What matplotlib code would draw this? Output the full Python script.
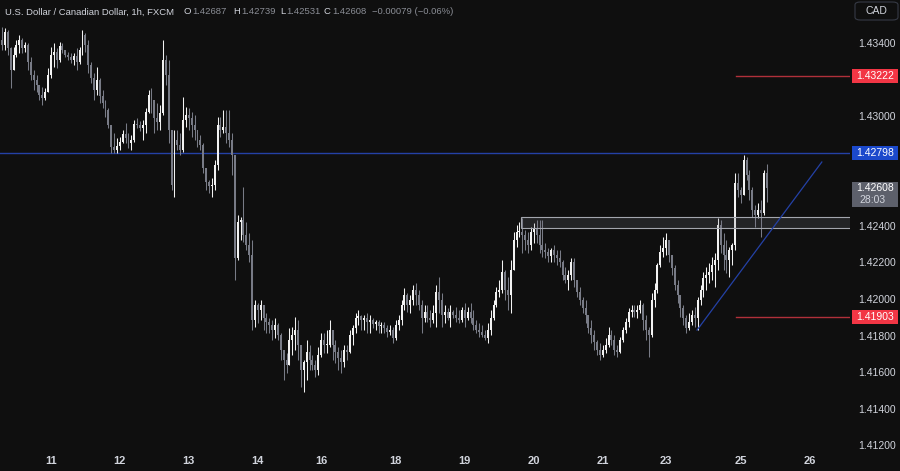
import numpy as np
import matplotlib
matplotlib.use('Agg')
from matplotlib import pyplot as plt
from matplotlib.patches import Rectangle, FancyBboxPatch
from matplotlib.transforms import blended_transform_factory

# USD/CAD 1h candles, 10 Mar 07:00 -> 25 Mar 09:00
first_open = 1.43416
closes = [
    1.43389, 1.43460, 1.43372, 1.43252, 1.43334, 1.43389, 1.43416, 1.43372, 1.43389, 1.43296,
    1.43225, 1.43198, 1.43170, 1.43115, 1.43099, 1.43132, 1.43225, 1.43334, 1.43351, 1.43307,
    1.43383, 1.43362, 1.43334, 1.43323, 1.43307, 1.43329, 1.43296, 1.43362, 1.43444, 1.43389,
    1.43279, 1.43208, 1.43143, 1.43198, 1.43110, 1.43072, 1.43033, 1.42951, 1.42831, 1.42814,
    1.42836, 1.42858, 1.42902, 1.42880, 1.42853, 1.42869, 1.42957, 1.42951, 1.42935, 1.42951,
    1.43022, 1.43115, 1.43088, 1.42990, 1.42968, 1.43017, 1.43307, 1.43225, 1.42924, 1.42623,
    1.42869, 1.42842, 1.42814, 1.42979, 1.43006, 1.42990, 1.42951, 1.42924, 1.42869, 1.42842,
    1.42716, 1.42639, 1.42618, 1.42623, 1.42732, 1.42951, 1.42924, 1.42940, 1.42908, 1.42869,
    1.42787, 1.42224, 1.42421, 1.42431, 1.42350, 1.42295, 1.42240, 1.41885, 1.41967, 1.41939,
    1.41967, 1.41896, 1.41874, 1.41857, 1.41830, 1.41857, 1.41803, 1.41720, 1.41666, 1.41638,
    1.41775, 1.41803, 1.41830, 1.41748, 1.41611, 1.41655, 1.41710, 1.41666, 1.41638, 1.41611,
    1.41693, 1.41775, 1.41748, 1.41748, 1.41830, 1.41748, 1.41710, 1.41677, 1.41655, 1.41720,
    1.41710, 1.41803, 1.41841, 1.41896, 1.41907, 1.41885, 1.41896, 1.41874, 1.41885, 1.41863,
    1.41874, 1.41852, 1.41857, 1.41841, 1.41819, 1.41830, 1.41786, 1.41857, 1.41885, 1.41967,
    1.42021, 1.41967, 1.41994, 1.42049, 1.42021, 1.41967, 1.41896, 1.41928, 1.41896, 1.41885,
    1.41923, 1.42038, 1.41994, 1.41912, 1.41928, 1.41896, 1.41928, 1.41912, 1.41896, 1.41885,
    1.41939, 1.41896, 1.41928, 1.41896, 1.41857, 1.41830, 1.41819, 1.41803, 1.41786, 1.41830,
    1.41896, 1.41967, 1.42038, 1.42049, 1.42147, 1.42049, 1.42021, 1.42158, 1.42322, 1.42366,
    1.42366, 1.42350, 1.42322, 1.42295, 1.42366, 1.42388, 1.42350, 1.42295, 1.42267, 1.42257,
    1.42235, 1.42267, 1.42240, 1.42224, 1.42202, 1.42131, 1.42103, 1.42131, 1.42202, 1.42103,
    1.42038, 1.41994, 1.41950, 1.41912, 1.41841, 1.41803, 1.41764, 1.41720, 1.41693, 1.41720,
    1.41748, 1.41803, 1.41775, 1.41720, 1.41710, 1.41775, 1.41830, 1.41874, 1.41928, 1.41939,
    1.41928, 1.41939, 1.41967, 1.41885, 1.41830, 1.41803, 1.41994, 1.42049, 1.42186, 1.42257,
    1.42279, 1.42322, 1.42240, 1.42169, 1.42076, 1.42021, 1.41950, 1.41896, 1.41841, 1.41874,
    1.41912, 1.41896, 1.41994, 1.42049, 1.42114, 1.42131, 1.42147, 1.42186, 1.42213, 1.42404,
    1.42295, 1.42240, 1.42213, 1.42267, 1.42295, 1.42634, 1.42596, 1.42568, 1.42760, 1.42678,
    1.42596, 1.42486, 1.42459, 1.42486, 1.42470, 1.42687, 1.42608,
]
highs = [
    1.43487, 1.43482, 1.43471, 1.43378, 1.43378, 1.43416, 1.43444, 1.43427, 1.43405, 1.43400,
    1.43323, 1.43252, 1.43225, 1.43170, 1.43159, 1.43154, 1.43263, 1.43378, 1.43400, 1.43372,
    1.43405, 1.43400, 1.43362, 1.43351, 1.43345, 1.43345, 1.43372, 1.43378, 1.43471, 1.43454,
    1.43416, 1.43296, 1.43236, 1.43268, 1.43208, 1.43143, 1.43088, 1.43044, 1.42951, 1.42908,
    1.42880, 1.42886, 1.42924, 1.42962, 1.42908, 1.42897, 1.42979, 1.42990, 1.42973, 1.42979,
    1.43044, 1.43143, 1.43154, 1.43088, 1.43072, 1.43061, 1.43416, 1.43334, 1.43307, 1.42908,
    1.42924, 1.42924, 1.42908, 1.43104, 1.43050, 1.43044, 1.43022, 1.43006, 1.42908, 1.42897,
    1.42853, 1.42705, 1.42650, 1.42661, 1.42760, 1.42995, 1.42995, 1.43033, 1.43033, 1.43033,
    1.42908, 1.42689, 1.42459, 1.42448, 1.42612, 1.42421, 1.42360, 1.42322, 1.41994, 1.41977,
    1.41994, 1.41967, 1.41923, 1.41896, 1.41885, 1.41896, 1.41868, 1.41814, 1.41720, 1.41704,
    1.41841, 1.41846, 1.41901, 1.41885, 1.41682, 1.41666, 1.41775, 1.41748, 1.41693, 1.41666,
    1.41737, 1.41814, 1.41814, 1.41830, 1.41885, 1.41814, 1.41775, 1.41737, 1.41720, 1.41748,
    1.41748, 1.41830, 1.41857, 1.41923, 1.41939, 1.41912, 1.41912, 1.41923, 1.41912, 1.41896,
    1.41885, 1.41885, 1.41874, 1.41874, 1.41857, 1.41857, 1.41846, 1.41885, 1.41912, 1.41994,
    1.42060, 1.42032, 1.42021, 1.42076, 1.42087, 1.42049, 1.41994, 1.41967, 1.41967, 1.41939,
    1.41967, 1.42076, 1.42120, 1.42032, 1.41967, 1.41950, 1.41967, 1.41939, 1.41956, 1.41939,
    1.41956, 1.41977, 1.41956, 1.41977, 1.41939, 1.41885, 1.41868, 1.41857, 1.41830, 1.41868,
    1.41939, 1.41994, 1.42065, 1.42103, 1.42213, 1.42158, 1.42120, 1.42213, 1.42366, 1.42404,
    1.42421, 1.42443, 1.42377, 1.42366, 1.42393, 1.42415, 1.42431, 1.42431, 1.42431, 1.42306,
    1.42279, 1.42279, 1.42295, 1.42267, 1.42267, 1.42213, 1.42175, 1.42158, 1.42224, 1.42224,
    1.42103, 1.42065, 1.42010, 1.41994, 1.41901, 1.41885, 1.41830, 1.41775, 1.41759, 1.41748,
    1.41786, 1.41846, 1.41830, 1.41803, 1.41748, 1.41792, 1.41846, 1.41896, 1.41950, 1.41967,
    1.41967, 1.41967, 1.41994, 1.41977, 1.41912, 1.41846, 1.42032, 1.42087, 1.42197, 1.42295,
    1.42339, 1.42360, 1.42322, 1.42240, 1.42186, 1.42103, 1.42021, 1.41967, 1.41912, 1.41923,
    1.41939, 1.41956, 1.42010, 1.42076, 1.42147, 1.42175, 1.42197, 1.42229, 1.42251, 1.42443,
    1.42431, 1.42360, 1.42322, 1.42284, 1.42306, 1.42689, 1.42689, 1.42612, 1.42787, 1.42776,
    1.42705, 1.42612, 1.42514, 1.42525, 1.42541, 1.42705, 1.42739,
]
lows = [
    1.43362, 1.43362, 1.43334, 1.43154, 1.43263, 1.43323, 1.43345, 1.43345, 1.43351, 1.43252,
    1.43198, 1.43143, 1.43132, 1.43088, 1.43061, 1.43088, 1.43132, 1.43208, 1.43268, 1.43263,
    1.43296, 1.43345, 1.43323, 1.43307, 1.43290, 1.43279, 1.43252, 1.43285, 1.43334, 1.43351,
    1.43236, 1.43181, 1.43088, 1.43115, 1.43072, 1.43044, 1.42995, 1.42935, 1.42798, 1.42798,
    1.42798, 1.42814, 1.42853, 1.42853, 1.42825, 1.42814, 1.42858, 1.42935, 1.42919, 1.42869,
    1.42908, 1.43017, 1.43017, 1.42908, 1.42924, 1.42924, 1.43006, 1.43170, 1.42853, 1.42596,
    1.42557, 1.42814, 1.42787, 1.42804, 1.42940, 1.42924, 1.42886, 1.42869, 1.42831, 1.42814,
    1.42689, 1.42596, 1.42579, 1.42557, 1.42596, 1.42705, 1.42886, 1.42908, 1.42853, 1.42831,
    1.42678, 1.42103, 1.42213, 1.42322, 1.42311, 1.42267, 1.42202, 1.41830, 1.41846, 1.41868,
    1.41885, 1.41830, 1.41814, 1.41814, 1.41775, 1.41786, 1.41775, 1.41666, 1.41556, 1.41595,
    1.41655, 1.41693, 1.41720, 1.41666, 1.41518, 1.41491, 1.41556, 1.41611, 1.41611, 1.41573,
    1.41584, 1.41682, 1.41704, 1.41704, 1.41737, 1.41666, 1.41649, 1.41611, 1.41595, 1.41627,
    1.41666, 1.41704, 1.41748, 1.41814, 1.41857, 1.41830, 1.41830, 1.41814, 1.41814, 1.41841,
    1.41830, 1.41814, 1.41814, 1.41814, 1.41792, 1.41803, 1.41759, 1.41775, 1.41830, 1.41857,
    1.41939, 1.41928, 1.41923, 1.41967, 1.41967, 1.41939, 1.41814, 1.41874, 1.41874, 1.41846,
    1.41868, 1.41846, 1.41923, 1.41846, 1.41868, 1.41885, 1.41846, 1.41896, 1.41874, 1.41868,
    1.41874, 1.41846, 1.41885, 1.41868, 1.41830, 1.41814, 1.41792, 1.41792, 1.41775, 1.41759,
    1.41803, 1.41885, 1.41956, 1.42010, 1.42032, 1.41994, 1.41939, 1.41923, 1.42158, 1.42284,
    1.42339, 1.42251, 1.42267, 1.42251, 1.42267, 1.42306, 1.42306, 1.42251, 1.42229, 1.42224,
    1.42202, 1.42202, 1.42202, 1.42186, 1.42175, 1.42103, 1.42087, 1.42049, 1.42103, 1.42065,
    1.42010, 1.41967, 1.41923, 1.41868, 1.41814, 1.41759, 1.41720, 1.41693, 1.41666, 1.41682,
    1.41704, 1.41737, 1.41748, 1.41693, 1.41682, 1.41704, 1.41764, 1.41814, 1.41846, 1.41901,
    1.41901, 1.41896, 1.41923, 1.41830, 1.41775, 1.41682, 1.41792, 1.41956, 1.42032, 1.42175,
    1.42229, 1.42240, 1.42202, 1.42131, 1.42049, 1.41977, 1.41901, 1.41857, 1.41814, 1.41830,
    1.41857, 1.41846, 1.41830, 1.41967, 1.42010, 1.42049, 1.42087, 1.42103, 1.42065, 1.42158,
    1.42251, 1.42158, 1.42142, 1.42120, 1.42186, 1.42267, 1.42557, 1.42525, 1.42650, 1.42650,
    1.42541, 1.42448, 1.42393, 1.42443, 1.42339, 1.42459, 1.42531,
]

# day labels on the time axis (candle index where each day starts)
day_ticks = [17, 41, 65, 89, 111, 137, 161, 185, 209, 231, 257, 281]
day_labels = ['11', '12', '13', '14', '16', '18', '19', '20', '21', '23', '25', '26']
price_ticks = [1.434, 1.430, 1.424, 1.422, 1.420, 1.418, 1.416, 1.414, 1.412]

# drawings
blue_level = 1.42798
red_levels = [1.43222, 1.41903]
zone = (180.5, 1.42389, 1.42446)          # start index, bottom, top
trend = ([241.8, 285.2], [1.41830, 1.42749])

BG = '#0f0f0f'
UP = '#f2f2f2'
DOWN = '#787b86'
TXT = '#d1d4dc'
LINE_BLUE = '#2441a6'
FONT = 'Liberation Sans'

o = np.array([first_open] + closes[:-1])
c = np.array(closes)
h = np.maximum(np.array(highs), np.maximum(o, c))
l = np.minimum(np.array(lows), np.minimum(o, c))
x = np.arange(len(c))
cols = np.where(c >= o, UP, DOWN)

fig = plt.figure(figsize=(9, 4.71), dpi=100, facecolor=BG)
ax = fig.add_axes([0, 21 / 471, 850 / 900, 450 / 471])
ax.set_facecolor(BG)
for s in ax.spines.values():
    s.set_visible(False)

ax.set_xlim(-0.7, 295)
ax.set_ylim(1.41174, 1.43635)

ax.vlines(x, l, h, colors=cols, linewidth=0.75, zorder=4)
body = np.maximum(np.abs(c - o), 0.00003)
ax.bar(x, body, bottom=np.minimum(o, c), width=0.68, color=cols, linewidth=0, zorder=5)

# levels and drawings
ax.axhline(blue_level, color=LINE_BLUE, linewidth=1.0, zorder=3)
for lv in red_levels:
    ax.plot([255.5, 300], [lv, lv], color='#b0303a', linewidth=1.0, zorder=3)
ax.add_patch(Rectangle((zone[0], zone[1]), 200, zone[2] - zone[1], facecolor=(0.47, 0.48, 0.53, 0.2),
                       edgecolor='#a3a6ae', linewidth=0.8, zorder=6))
ax.plot(trend[0], trend[1], color=LINE_BLUE, linewidth=0.9, zorder=7)

# axes ticks
ax.set_xticks(day_ticks)
ax.set_xticklabels(day_labels)
ax.yaxis.tick_right()
ax.set_yticks(price_ticks)
ax.set_yticklabels(['%.5f' % p for p in price_ticks])
ax.tick_params(axis='x', length=0, pad=4, colors=TXT, labelsize=8)
ax.tick_params(axis='y', length=0, pad=6, colors=TXT, labelsize=7.5)
for t in ax.get_xticklabels() + ax.get_yticklabels():
    t.set_fontfamily(FONT)
for t in ax.get_xticklabels():
    t.set_fontweight('bold')

# price boxes on the right scale
tr = blended_transform_factory(ax.transAxes, ax.transData)
px = 0.0000547
def price_box(price, text, color, height=14):
    ax.add_patch(Rectangle((852 / 850, price - height / 2 * px), 46 / 850, height * px, transform=tr,
                           facecolor=color, edgecolor='none', clip_on=False, zorder=10))
    ax.text(875 / 850, price, text, transform=tr, ha='center', va='center', color='white',
            fontsize=7.5, fontfamily=FONT, clip_on=False, zorder=11)

price_box(1.43222, '1.43222', '#f23645')
price_box(1.41903, '1.41903', '#f23645')
price_box(blue_level, '1.42798', '#1b49cc')
last = closes[-1]
ax.add_patch(Rectangle((852 / 850, last - 19 * px), 46 / 850, 25 * px, transform=tr,
                       facecolor='#5d606b', edgecolor='none', clip_on=False, zorder=10))
ax.text(875 / 850, last, '%.5f' % last, transform=tr, ha='center', va='center', color='white',
        fontsize=7.5, fontfamily=FONT, clip_on=False, zorder=11)
ax.text(859 / 850, last - 12 * px, '28:03', transform=tr, ha='left', va='center', color='#d1d4dc',
        fontsize=7.5, fontfamily=FONT, clip_on=False, zorder=11)

# currency button
fig.add_artist(FancyBboxPatch((855 / 900, 1 - 20 / 471), 43 / 900, 18 / 471, boxstyle='round,pad=0,rounding_size=0.006',
                              transform=fig.transFigure, facecolor=BG, edgecolor='#363a45', linewidth=0.8))
fig.text(876.5 / 900, 1 - 11 / 471, 'CAD', ha='center', va='center', color=TXT, fontsize=7.5, fontfamily=FONT)

# header line
ty = 1 - 12 / 471
HS = 6.8
fig.text(5 / 900, ty, 'U.S. Dollar / Canadian Dollar, 1h, FXCM', color=TXT, fontsize=HS,
         fontfamily=FONT, va='center')
header = [('O', 184, '1.42687', 192), ('H', 233, '1.42739', 241), ('L', 280, '1.42531', 286),
          ('C', 324, '1.42608', 332)]
for lab, lx, val, vx in header:
    fig.text(lx / 900, ty, lab, color=TXT, fontsize=HS, fontfamily=FONT, va='center')
    fig.text(vx / 900, ty, val, color='#8a8d95', fontsize=HS, fontfamily=FONT, va='center')
fig.text(372 / 900, ty, '\u22120.00079 (\u22120.06%)', color='#8a8d95', fontsize=HS, fontfamily=FONT, va='center')

fig.savefig('out.png', dpi=100, facecolor=BG)
